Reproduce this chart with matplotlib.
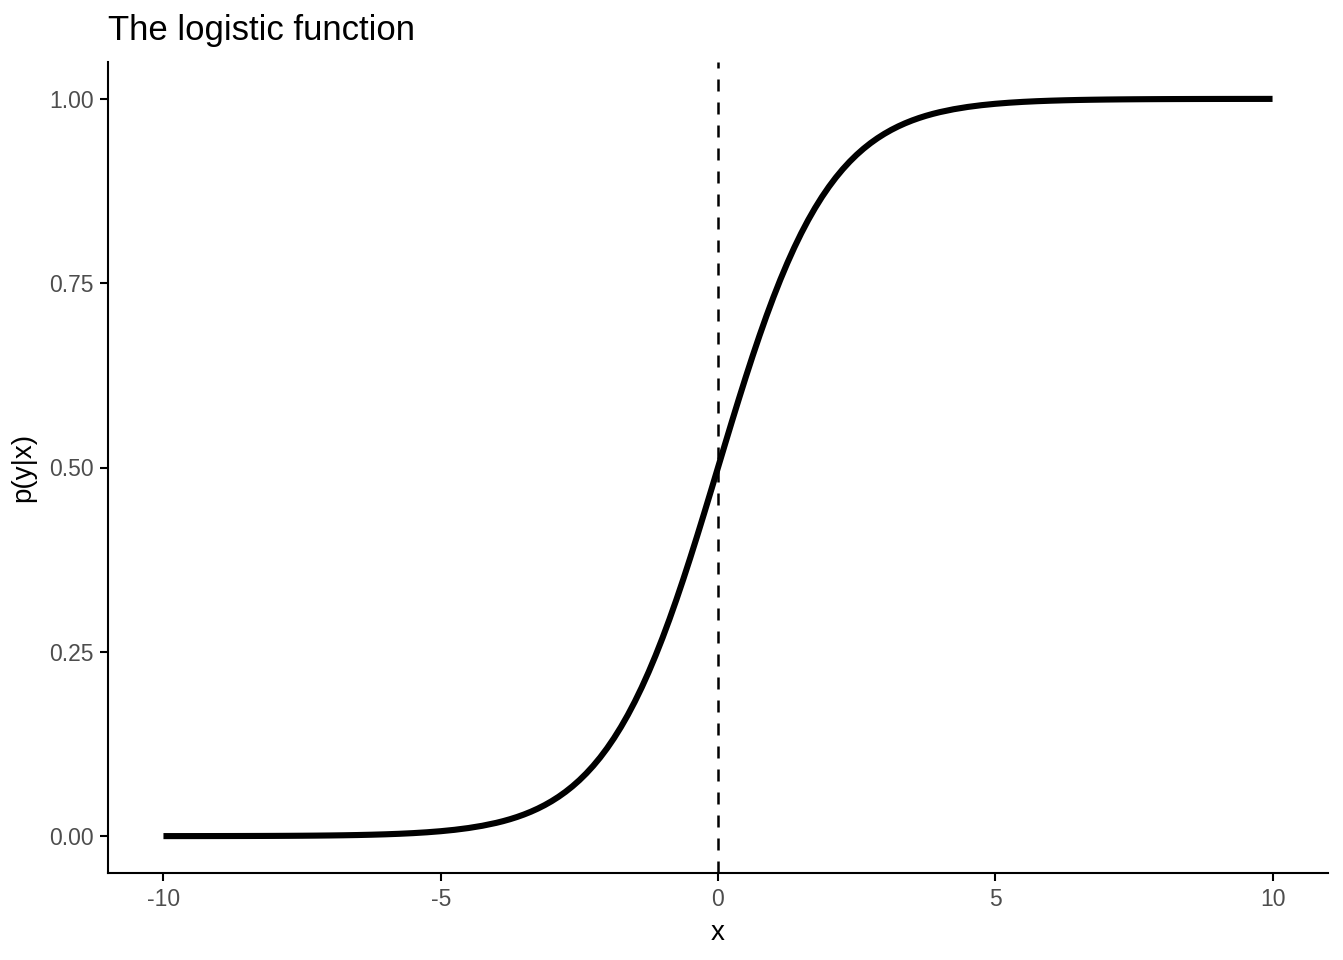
import matplotlib
matplotlib.use("Agg")
import matplotlib.pyplot as plt

x_values = [-10.0, -9.75, -9.5, -9.25, -9.0, -8.75, -8.5, -8.25, -8.0, -7.75,
            -7.5, -7.25, -7.0, -6.75, -6.5, -6.25, -6.0, -5.75, -5.5, -5.25,
            -5.0, -4.75, -4.5, -4.25,
            -4.0, -3.875, -3.75, -3.625, -3.5, -3.375, -3.25, -3.125,
            -3.0, -2.875, -2.75, -2.625, -2.5, -2.375, -2.25, -2.125,
            -2.0, -1.875, -1.75, -1.625, -1.5, -1.375, -1.25, -1.125,
            -1.0, -0.875, -0.75, -0.625, -0.5, -0.375, -0.25, -0.125,
            0.0, 0.125, 0.25, 0.375, 0.5, 0.625, 0.75, 0.875,
            1.0, 1.125, 1.25, 1.375, 1.5, 1.625, 1.75, 1.875,
            2.0, 2.125, 2.25, 2.375, 2.5, 2.625, 2.75, 2.875,
            3.0, 3.125, 3.25, 3.375, 3.5, 3.625, 3.75, 3.875, 4.0,
            4.25, 4.5, 4.75, 5.0, 5.25, 5.5, 5.75, 6.0, 6.25, 6.5,
            6.75, 7.0, 7.25, 7.5, 7.75, 8.0, 8.25, 8.5, 8.75, 9.0,
            9.25, 9.5, 9.75, 10.0]

p_values = [0.000045, 0.000058, 0.000075, 0.000096, 0.000123, 0.000158, 0.000203, 0.000261, 0.000335, 0.000431,
            0.000553, 0.000710, 0.000911, 0.001170, 0.001501, 0.001927, 0.002473, 0.003173, 0.004070, 0.005220,
            0.006693, 0.008577, 0.010987, 0.014064,
            0.017986, 0.020332, 0.022977, 0.025958, 0.029312, 0.033086, 0.037327, 0.042088,
            0.047426, 0.053403, 0.060087, 0.067547, 0.075858, 0.085099, 0.095349, 0.106691,
            0.119203, 0.132964, 0.148047, 0.164516, 0.182426, 0.201813, 0.222700, 0.245085,
            0.268941, 0.294215, 0.320821, 0.348645, 0.377541, 0.407333, 0.437823, 0.468791,
            0.500000, 0.531209, 0.562177, 0.592667, 0.622459, 0.651355, 0.679179, 0.705785,
            0.731059, 0.754915, 0.777300, 0.798187, 0.817574, 0.835484, 0.851953, 0.867036,
            0.880797, 0.893309, 0.904651, 0.914901, 0.924142, 0.932453, 0.939913, 0.946597,
            0.952574, 0.957912, 0.962673, 0.966914, 0.970688, 0.974042, 0.977023, 0.979668, 0.982014,
            0.985936, 0.989013, 0.991423, 0.993307, 0.994780, 0.995930, 0.996827, 0.997527, 0.998073, 0.998499,
            0.998830, 0.999089, 0.999290, 0.999447, 0.999569, 0.999665, 0.999739, 0.999797, 0.999842, 0.999877,
            0.999904, 0.999925, 0.999942, 0.999955]

vline_x = 0
x_ticks = [-10, -5, 0, 5, 10]
x_tick_labels = ["-10", "-5", "0", "5", "10"]
y_ticks = [0.0, 0.25, 0.5, 0.75, 1.0]
y_tick_labels = ["0.00", "0.25", "0.50", "0.75", "1.00"]

plt.rcParams['font.family'] = ['Liberation Sans', 'DejaVu Sans']

fig = plt.figure(figsize=(13.43, 9.60), dpi=100)
ax = fig.add_axes([108/1343, 87/960, 1220/1343, 811/960])

ax.plot(x_values, p_values, color='black', linewidth=4.4, solid_capstyle='butt',
        solid_joinstyle='round', zorder=3)
ax.axvline(vline_x, color='black', linewidth=1.8, linestyle=(0, (4.8, 4.4)), zorder=2)

ax.set_xlim(-11, 11)
ax.set_ylim(-0.05, 1.05)
ax.set_xticks(x_ticks)
ax.set_xticklabels(x_tick_labels)
ax.set_yticks(y_ticks)
ax.set_yticklabels(y_tick_labels)

for s in ['top', 'right']:
    ax.spines[s].set_visible(False)
for s in ['left', 'bottom']:
    ax.spines[s].set_linewidth(1.5)
    ax.spines[s].set_color('black')

ax.tick_params(axis='both', direction='out', length=5.5, width=1.5, color='black',
               labelsize=16.5, labelcolor='#4d4d4d', pad=5)

ax.set_xlabel('x', fontsize=20, color='black', labelpad=7)
ax.set_ylabel('p(y|x)', fontsize=20, color='black', labelpad=9)
ax.set_title('The logistic function', fontsize=25, loc='left', color='black', pad=16)

fig.savefig('out.png', dpi=100)
